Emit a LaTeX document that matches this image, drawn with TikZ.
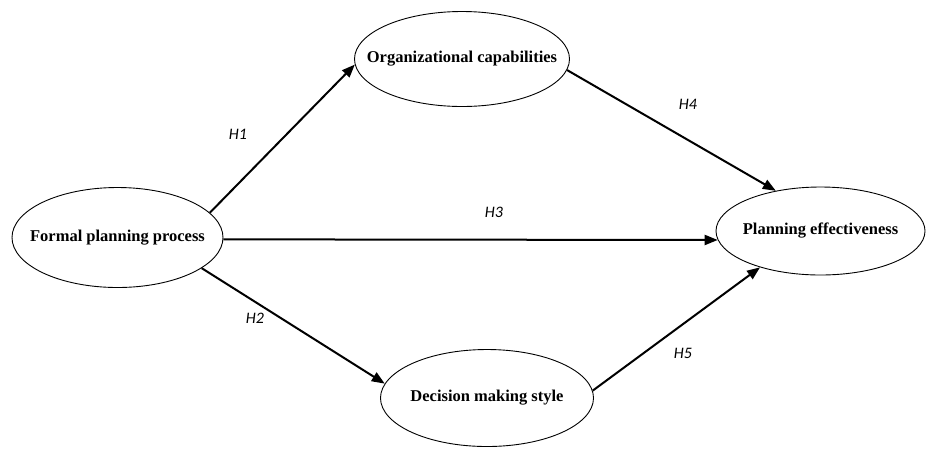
\documentclass[tikz,border=0pt]{standalone}
\usepackage{fontspec}
\setmainfont{Liberation Serif}
\newfontfamily\hfont{Carlito}
\usepackage{tikz}
\usetikzlibrary{shapes.geometric,arrows.meta}

\tikzset{
  construct/.style={draw, ellipse, line width=0.9pt, inner sep=0pt},
  ctext/.style={font=\fontsize{16.5}{19}\selectfont\bfseries},
  link/.style={line width=2pt, -{Triangle[length=13pt,width=10pt]}},
  hyp/.style={font=\hfont\itshape\fontsize{16}{19}\selectfont}
}

\begin{document}
\begin{tikzpicture}[x=1pt,y=-1pt]
\useasboundingbox (0,0) rectangle (928,448);
%----------------------------------
\node[construct, minimum width=211pt, minimum height=100pt, label={[ctext]center:Formal planning process}] (fpp) at (117.5,237.5) {};
\node[construct, minimum width=215pt, minimum height=95pt, label={[ctext]center:Organizational capabilities}] (oc) at (462,59) {};
\node[construct, minimum width=209pt, minimum height=88pt, label={[ctext]center:Planning effectiveness}] (pe) at (820.5,231) {};
\node[construct, minimum width=213pt, minimum height=97pt, label={[ctext]center:Decision making style}] (dms) at (487,398) {};
%----------------------------------
\node[hyp] (h1) at (238,134) {H1};
\node[hyp] (h2) at (255,318) {H2};
\node[hyp] (h3) at (494,212) {H3};
\node[hyp] (h4) at (688,104) {H4};
\node[hyp] (h5) at (683,353) {H5};
%----------------------------------
\draw[link] (fpp.15.7) -- (oc.183);
\draw[link] (fpp.-1.4) -- (pe.185.6);
\draw[link] (fpp.-20.3) -- (dms.172.9);
\draw[link] (oc.-6.6) -- (pe.138);
\draw[link] (dms.4.4) -- (pe.211.6);
\end{tikzpicture}
\end{document}
